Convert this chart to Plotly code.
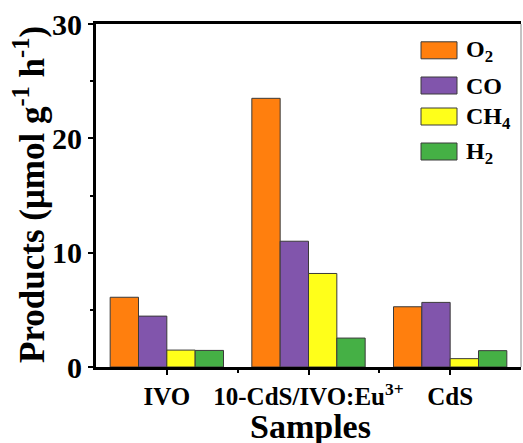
import plotly.graph_objects as go

categories = ["IVO", "10-CdS/IVO:Eu<sup>3+</sup>", "CdS"]
series_names = ["O<sub>2</sub>", "CO", "CH<sub>4</sub>", "H<sub>2</sub>"]
o2 = [6.1, 23.5, 5.27]
co = [4.45, 11.0, 5.65]
ch4 = [1.48, 8.18, 0.73]
h2 = [1.45, 2.53, 1.43]
colors = ["#FF7F0E", "#8155AC", "#FFFF1A", "#45B045"]

W, H = 523, 443
L, R, T, B = 96, 2, 24, 76
pw, ph = W - L - R, H - T - B

def px2x(x):
    return (x - L) / pw

def px2y(y):
    return 1 - (y - T) / ph

font = "Liberation Serif"
fig = go.Figure()
for name, vals, col in zip(series_names, [o2, co, ch4, h2], colors):
    fig.add_trace(go.Bar(
        x=categories, y=vals, name=name,
        marker=dict(color=col, line=dict(color="#3a3a3a", width=1)),
        showlegend=False,
    ))

# custom legend (wide swatches)
row_y = [50.3, 85.5, 116.5, 151.5]
shapes = []
annotations = []
for name, col, yc in zip(series_names, colors, row_y):
    shapes.append(dict(type="rect", xref="paper", yref="paper",
                       x0=px2x(421), x1=px2x(457), y0=px2y(yc + 8.5), y1=px2y(yc - 8.5),
                       fillcolor=col, line=dict(color="#3a3a3a", width=1)))
    annotations.append(dict(xref="paper", yref="paper", x=px2x(464), y=px2y(yc + 1),
                            xanchor="left", yanchor="middle", showarrow=False,
                            text=name,
                            font=dict(family=font, size=24, color="black", weight="bold")))
shapes.append(dict(type="line", xref="paper", yref="paper", x0=1, x1=1, y0=0, y1=1,
                   line=dict(color="#888888", width=1)))

# axis titles
annotations.append(dict(xref="paper", yref="paper", x=px2x(310), y=px2y(426),
                        xanchor="center", yanchor="middle", showarrow=False,
                        text="Samples",
                        font=dict(family=font, size=34, color="black", weight="bold")))
annotations.append(dict(xref="paper", yref="paper", x=px2x(30), y=px2y(195),
                        xanchor="center", yanchor="middle", showarrow=False, textangle=-90,
                        text="Products (μmol g<sup>-1</sup> h<sup>-1</sup>)",
                        font=dict(family=font, size=35, color="black", weight="bold")))

fig.update_layout(
    width=W, height=H,
    margin=dict(l=L, r=R, t=T, b=B, autoexpand=False),
    plot_bgcolor="white", paper_bgcolor="white",
    barmode="group", bargap=0.2, bargroupgap=0,
    font=dict(family=font, color="black"),
    shapes=shapes, annotations=annotations,
    xaxis=dict(
        range=[-0.5, 2.5], automargin=False,
        showline=True, linecolor="black", linewidth=3, mirror=True,
        ticks="outside", ticklen=5, tickwidth=2, tickcolor="black",
        tickfont=dict(family=font, size=25, color="black", weight="bold"),
        minor=dict(tickvals=[0.5, 1.5], ticks="outside", ticklen=3, tickwidth=2, tickcolor="black"),
        showgrid=False,
    ),
    yaxis=dict(
        range=[0, 30], tickvals=[0, 10, 20, 30], automargin=False,
        showline=True, linecolor="black", linewidth=3,
        ticks="outside", ticklen=5, tickwidth=2, tickcolor="black",
        tickfont=dict(family=font, size=30, color="black", weight="bold"),
        minor=dict(tickvals=[5, 15, 25], ticks="outside", ticklen=3, tickwidth=2, tickcolor="black"),
        showgrid=False, zeroline=False,
    ),
)

fig.write_html("out.html", config={"displayModeBar": False},
               post_script="document.body.style.margin='0';document.body.style.padding='0';")
